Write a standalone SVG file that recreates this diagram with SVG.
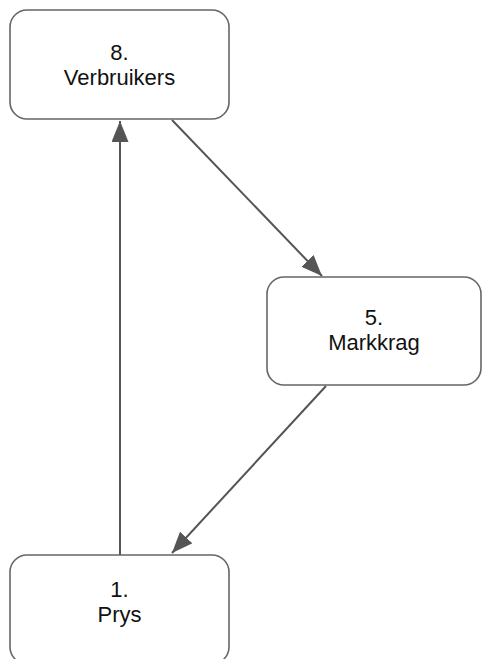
<svg xmlns="http://www.w3.org/2000/svg" width="482" height="659" viewBox="0 0 482 659">
  <style>
    .box { fill: #ffffff; stroke: #666666; stroke-width: 1.6; }
    .label { font-family: "Liberation Sans", Arial, sans-serif; font-size: 22px; fill: #111111; text-anchor: middle; }
    .edge { stroke: #555555; stroke-width: 2; fill: none; marker-end: url(#arrow); }
  </style>
  <defs>
    <marker id="arrow" markerUnits="userSpaceOnUse" markerWidth="22" markerHeight="18" refX="21" refY="8.5" orient="auto">
      <path d="M0,0 L21,8.5 L0,17 Z" fill="#555555"/>
    </marker>
  </defs>
  <rect width="482" height="659" fill="#ffffff"/>

  <g id="edges">
    <line class="edge" x1="120" y1="555" x2="120" y2="121"/>
    <line class="edge" x1="172" y1="120" x2="322" y2="276"/>
    <line class="edge" x1="326" y1="386" x2="172" y2="553"/>
  </g>

  <g id="node-verbruikers">
    <rect class="box" x="10" y="10" width="219" height="109" rx="17"/>
    <text class="label" x="119.5" y="60">8.</text>
    <text class="label" x="119.5" y="85">Verbruikers</text>
  </g>

  <g id="node-markkrag">
    <rect class="box" x="267" y="277" width="214" height="108" rx="17"/>
    <text class="label" x="374" y="325">5.</text>
    <text class="label" x="374" y="350">Markkrag</text>
  </g>

  <g id="node-prys">
    <rect class="box" x="10" y="555" width="219" height="109" rx="17"/>
    <text class="label" x="119.5" y="597">1.</text>
    <text class="label" x="119.5" y="622">Prys</text>
  </g>
</svg>
